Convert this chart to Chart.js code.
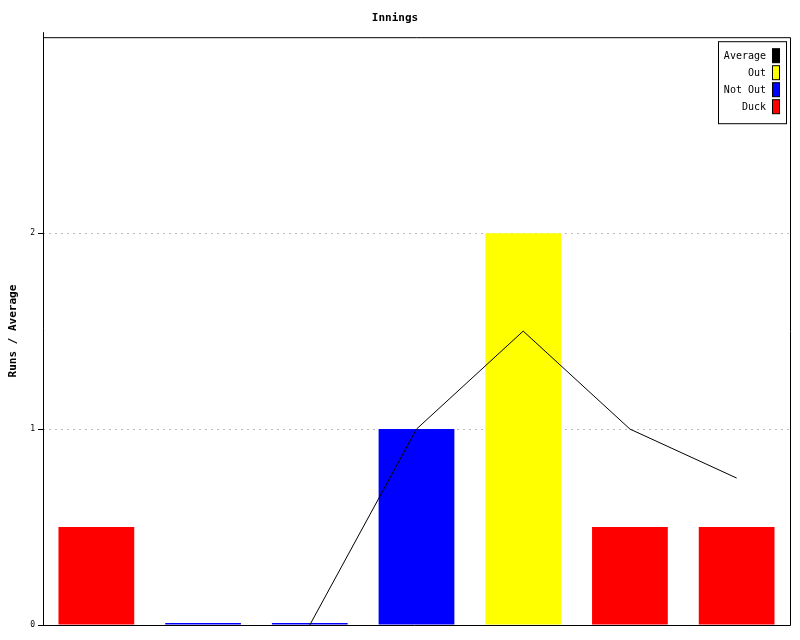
<!DOCTYPE html>
<html>
<head>
<meta charset="utf-8">
<title>Innings</title>
<script src="https://cdn.jsdelivr.net/npm/chart.js@4/dist/chart.umd.min.js"></script>
<style>
  html, body { margin: 0; padding: 0; background: #fff; }
  #wrap { width: 800px; height: 640px; }
</style>
</head>
<body>
<div id="wrap"><canvas id="inningsChart" width="800" height="640"></canvas></div>
<script>
// innings 1..7
const innings = ['1', '2', '3', '4', '5', '6', '7'];
const outRuns = [null, null, null, null, 2, null, null];
const notOutRuns = [null, 0.01, 0.01, 1, null, null, null];
const duckRuns = [0.5, null, null, null, null, 0.5, 0.5];
const average = [null, null, 0, 1, 1.5, 1, 0.75];
const yTicks = [0, 1, 2];

const mono = '"DejaVu Sans Mono", "Liberation Mono", monospace';

// frame + legend box inside the plot, like the original
const framePlugin = {
    id: 'frame',
    afterDraw(chart) {
        const ctx = chart.ctx;
        const a = chart.chartArea;
        const y = chart.scales.y;
        ctx.save();
        ctx.strokeStyle = '#000';
        ctx.lineWidth = 1;
        ctx.beginPath();
        ctx.moveTo(a.left + 0.5, a.top - 5);
        ctx.lineTo(a.left + 0.5, a.bottom + 0.5);
        ctx.moveTo(a.left - 5, a.bottom + 0.5);
        ctx.lineTo(a.right + 0.5, a.bottom + 0.5);
        ctx.lineTo(a.right + 0.5, a.top + 0.5);
        ctx.lineTo(a.left, a.top + 0.5);
        yTicks.forEach(v => {
            const py = Math.round(y.getPixelForValue(v)) + 0.5;
            ctx.moveTo(a.left - 5, py);
            ctx.lineTo(a.left, py);
        });
        ctx.stroke();

        // legend
        const sets = chart.data.datasets;
        const bx = a.right - 72, by = a.top + 4, bw = 68, bh = 82;
        ctx.fillStyle = '#fff';
        ctx.fillRect(bx, by, bw, bh);
        ctx.strokeRect(bx + 0.5, by + 0.5, bw, bh);
        ctx.font = '10px ' + mono;
        ctx.textAlign = 'right';
        ctx.textBaseline = 'middle';
        sets.forEach((ds, i) => {
            const cy = by + 15 + i * 17;
            ctx.fillStyle = '#000';
            ctx.fillText(ds.label, bx + 48, cy);
            ctx.fillStyle = ds.type === 'line' ? '#000' : ds.backgroundColor;
            ctx.fillRect(bx + 54.5, cy - 7.5, 7, 14);
            ctx.strokeRect(bx + 54.5, cy - 7.5, 7, 14);
        });
        ctx.restore();
    }
};

new Chart(document.getElementById('inningsChart'), {
    data: {
        labels: innings,
        datasets: [
            {
                type: 'line',
                label: 'Average',
                data: average,
                borderColor: '#000',
                borderWidth: 1,
                pointRadius: 0,
                tension: 0,
                spanGaps: false,
                order: 0,
                stack: 'avg'
            },
            { type: 'bar', label: 'Out', data: outRuns, backgroundColor: '#ffff00', order: 1, stack: 'runs' },
            { type: 'bar', label: 'Not Out', data: notOutRuns, backgroundColor: '#0000ff', order: 1, stack: 'runs' },
            { type: 'bar', label: 'Duck', data: duckRuns, backgroundColor: '#ff0000', order: 1, stack: 'runs' }
        ]
    },
    options: {
        responsive: false,
        animation: false,
        layout: { padding: { top: 0, right: 10, bottom: 0, left: 0 } },
        datasets: {
            bar: { barPercentage: 0.71, categoryPercentage: 1, grouped: false }
        },
        plugins: {
            legend: { display: false },
            tooltip: { enabled: false },
            title: {
                display: true,
                text: 'Innings',
                color: '#000',
                font: { family: mono, size: 11, weight: 'bold' },
                padding: { top: 12, bottom: 12 }
            }
        },
        scales: {
            x: {
                offset: true,
                ticks: { display: false },
                grid: { display: false, drawTicks: false },
                border: { display: false },
                afterFit(scale) { scale.height = 15; }
            },
            y: {
                min: 0,
                max: 3,
                afterBuildTicks(scale) {
                    scale.ticks = yTicks.map(v => ({ value: v }));
                },
                ticks: {
                    color: '#000',
                    padding: 3,
                    font: { family: mono, size: 8 }
                },
                grid: {
                    color: '#bbb',
                    drawTicks: true,
                    tickColor: 'rgba(0,0,0,0)',
                    tickLength: 5
                },
                border: { display: false, dash: [2, 4] },
                title: {
                    display: true,
                    text: 'Runs / Average',
                    color: '#000',
                    font: { family: mono, size: 11, weight: 'bold' },
                    padding: { top: 7, bottom: 8 }
                },
                afterFit(scale) { scale.width = 43; }
            }
        }
    },
    plugins: [framePlugin]
});
</script>
</body>
</html>
